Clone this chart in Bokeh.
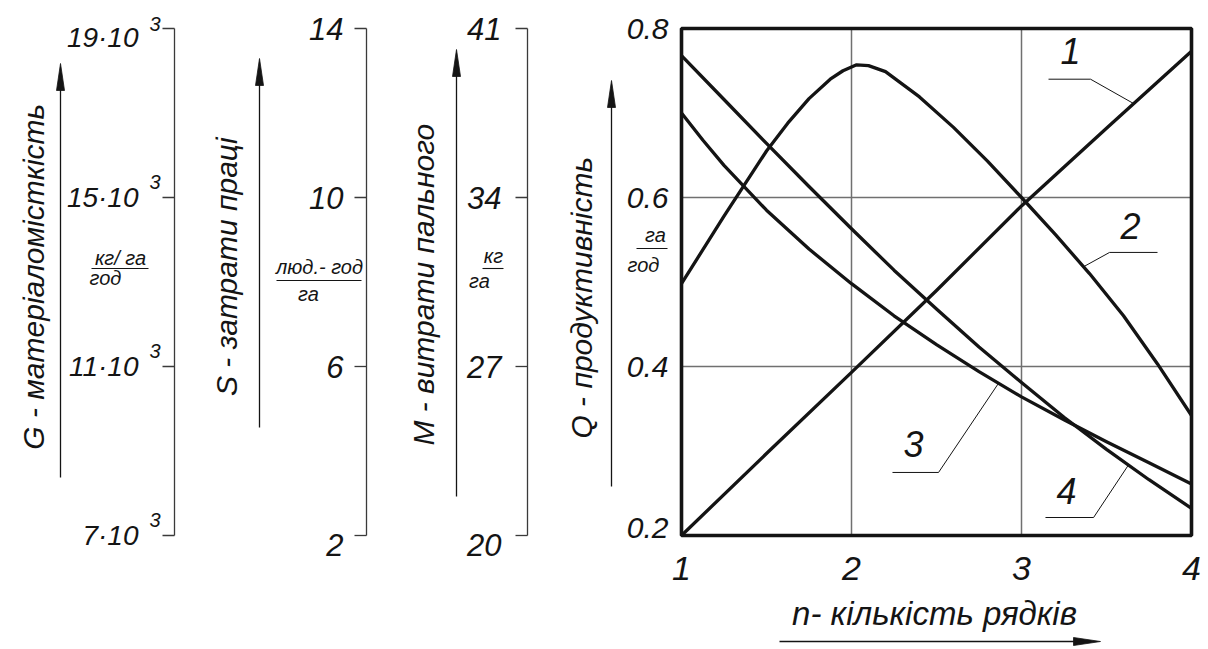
import numpy as np
from bokeh.plotting import figure
from bokeh.models import Range1d
from bokeh.core.properties import value
from bokeh.embed import file_html
from bokeh.resources import INLINE

# ---------------------------------------------------------------- data
# productivity Q (га/год) against the number of rows n, four variants
n_1 = [1.0, 1.5, 2.0, 2.5, 3.0, 3.5, 4.0]
q_1 = [0.200, 0.297, 0.393, 0.490, 0.590, 0.682, 0.773]

n_2 = [1.0, 1.25, 1.5, 1.625, 1.75, 1.875, 1.95, 2.03, 2.1, 2.2, 2.4, 2.6, 2.8,
       3.0, 3.2, 3.4, 3.6, 3.8, 4.0]
q_2 = [0.498, 0.578, 0.655, 0.688, 0.717, 0.740, 0.750, 0.757, 0.756, 0.749, 0.719,
       0.683, 0.643, 0.600, 0.556, 0.510, 0.460, 0.403, 0.342]

n_3 = [1.0, 1.125, 1.25, 1.5, 1.75, 2.0, 2.25, 2.5, 2.75, 3.0, 3.25, 3.5, 3.75, 4.0]
q_3 = [0.700, 0.668, 0.638, 0.585, 0.539, 0.498, 0.460, 0.426, 0.394, 0.364, 0.337,
       0.311, 0.286, 0.261]

n_4 = [1.0, 1.25, 1.5, 1.75, 2.0, 2.25, 2.5, 2.75, 3.0, 3.25, 3.5, 3.75, 4.0]
q_4 = [0.768, 0.716, 0.664, 0.613, 0.563, 0.514, 0.468, 0.423, 0.381, 0.340, 0.302, 0.266, 0.232]

curve_names = ["1", "2", "3", "4"]

# ticks of the main chart
n_ticks = [1, 2, 3, 4]
q_ticks = [0.2, 0.4, 0.6, 0.8]
q_tick_labels = ["0.2", "0.4", "0.6", "0.8"]

# side scales: material intensity G, labour input S, fuel use M
g_ticks = [7000, 11000, 15000, 19000]
g_tick_labels = ["7·10", "11·10", "15·10", "19·10"]
g_tick_power = "3"
s_ticks = [2, 6, 10, 14]
m_ticks = [20, 27, 34, 41]

g_title = "G -  матеріаломісткість"
s_title = "S -  затрати праці"
m_title = "M -  витрати пального"
q_title = "Q -  продуктивність"
n_title = "n- кількість рядків"

g_unit = ("кг/ га", "год")
s_unit = ("люд.- год", "га")
m_unit = ("кг", "га")
q_unit = ("га", "год")

# ---------------------------------------------------------------- layout
W, H = 1208, 649
TOP_PX, BOT_PX = 28, 535          # rows of the highest / lowest tick
LEFT_PX, RIGHT_PX = 681, 1191     # columns of n = 1 and n = 4
FONT = value("Liberation Sans")
INK = "#141414"
AXIS_INK = "#3a3a3a"


def fitted_range(lo_val, hi_val, lo_px, hi_px, size):
    """Range1d placing lo_val at lo_px and hi_val at hi_px (px from range start)."""
    per_px = (hi_val - lo_val) / (hi_px - lo_px)
    return Range1d(lo_val - lo_px * per_px, lo_val + (size - lo_px) * per_px)


def y_fitted(lo_val, hi_val):
    return fitted_range(lo_val, hi_val, H - BOT_PX, H - TOP_PX, H)


p = figure(width=W, height=H,
           x_range=fitted_range(n_ticks[0], n_ticks[-1], LEFT_PX, RIGHT_PX, W),
           y_range=y_fitted(q_ticks[0], q_ticks[-1]),
           output_backend="svg", toolbar_location=None, min_border=0,
           x_axis_location=None, y_axis_location=None)
p.grid.visible = False
p.outline_line_color = None
p.background_fill_color = "white"
p.border_fill_color = "white"
p.extra_x_ranges = {"page": Range1d(0, W)}
p.extra_y_ranges = {"page": Range1d(H, 0),
                    "G": y_fitted(g_ticks[0], g_ticks[-1]),
                    "S": y_fitted(s_ticks[0], s_ticks[-1]),
                    "M": y_fitted(m_ticks[0], m_ticks[-1])}

PG = dict(x_range_name="page", y_range_name="page")


def label(x, y, txt, size, align="center", angle=0.0, **kw):
    p.text(x=x, y=y, text=txt if isinstance(txt, list) else [txt],
           angle=angle, text_font=FONT, text_font_style="italic",
           text_font_size=f"{size}px", text_align=align, text_baseline="middle",
           text_color=INK, **kw)


def arrow(x0, y0, x1, y1, head=27, half=4.0):
    d = np.array([x1 - x0, y1 - y0], dtype=float)
    d /= np.hypot(*d)
    nx, ny = -d[1], d[0]
    bx, by = x1 - d[0] * head, y1 - d[1] * head
    p.segment(x0=[x0], y0=[y0], x1=[bx + d[0] * 4], y1=[by + d[1] * 4],
              line_color=INK, line_width=1.3, **PG)
    p.patch([x1, bx + nx * half, bx - nx * half], [y1, by + ny * half, by - ny * half],
            fill_color=INK, line_color=INK, line_width=0.8, **PG)


def fraction(num, den, num_xy, den_xy, bar_x0, bar_x1, bar_y, size=20):
    label(num_xy[0], num_xy[1], num, size, **PG)
    label(den_xy[0], den_xy[1], den, size, **PG)
    p.segment(x0=[bar_x0], y0=[bar_y], x1=[bar_x1], y1=[bar_y],
              line_color=INK, line_width=1.1, **PG)


def side_scale(axis_x, rng, ticks, labels, size, label_right, shift):
    p.segment(x0=[axis_x], y0=[ticks[0]], x1=[axis_x], y1=[ticks[-1]],
              line_color=AXIS_INK, line_width=1.3, x_range_name="page", y_range_name=rng)
    p.segment(x0=axis_x - 12, y0=ticks, x1=axis_x, y1=ticks,
              line_color=AXIS_INK, line_width=1.3, x_range_name="page", y_range_name=rng)
    label(label_right, list(ticks), labels, size, align="right",
          y_offset=shift, x_range_name="page", y_range_name=rng)


# ---------------------------------------------------------------- side scales
g_shift = [0, 0, 0, 9]
side_scale(174, "G", g_ticks, g_tick_labels, 28, 138, g_shift)
label(149, list(g_ticks), [g_tick_power] * len(g_ticks), 20, align="left",
      y_offset=[-5 if t == g_ticks[-1] else -16 for t in g_ticks],
      x_range_name="page", y_range_name="G")
edge_shift = [9, 0, 0, 0]
side_scale(366, "S", s_ticks, [str(t) for t in s_ticks], 31, 343, edge_shift)
side_scale(527, "M", m_ticks, [str(t) for t in m_ticks], 31, 501, edge_shift)

label(33, 272, g_title, 30, angle=np.pi / 2, **PG)
label(226, 262, s_title, 30, angle=np.pi / 2, **PG)
label(423, 280, m_title, 30, angle=np.pi / 2, **PG)
label(581, 293, q_title, 30, angle=np.pi / 2, **PG)

arrow(60, 477, 60, 63)
arrow(259, 427, 259, 58)
arrow(456, 496, 456, 49)
arrow(611, 486, 611, 80)
arrow(779, 641, 1100, 641)

fraction(g_unit[0], g_unit[1], (120, 257), (105, 277), 91, 148, 268)
fraction(s_unit[0], s_unit[1], (319, 266), (308, 293), 276, 361, 280)
fraction(m_unit[0], m_unit[1], (493, 255), (479, 280), 482, 503, 268)
fraction(q_unit[0], q_unit[1], (655, 234), (643, 264), 636, 667, 248)

# ---------------------------------------------------------------- main chart
inner_n = n_ticks[1:-1]
inner_q = q_ticks[1:-1]
p.segment(x0=inner_n, y0=q_ticks[0], x1=inner_n, y1=q_ticks[-1],
          line_color="#707070", line_width=1.5)
p.segment(x0=n_ticks[0], y0=inner_q, x1=n_ticks[-1], y1=inner_q,
          line_color="#707070", line_width=1.5)

curves = [(n_1, q_1), (n_2, q_2), (n_3, q_3), (n_4, q_4)]
for n_k, q_k in curves:
    p.line(n_k, q_k, line_color=INK, line_width=3.3, line_join="round")

p.quad(left=[n_ticks[0]], right=[n_ticks[-1]], bottom=[q_ticks[0]], top=[q_ticks[-1]],
       fill_color=None, line_color=INK, line_width=3.6)

# numbered leaders: anchor on the curve, elbow, end of the shelf, label position
leaders = [
    (3.660, 3.406, 3.159, 0.740, 3.288, 0.773),
    (3.365, 3.518, 3.800, 0.535, 3.641, 0.566),
    (2.865, 2.512, 2.241, 0.2746, 2.365, 0.308),
    (3.629, 3.424, 3.141, 0.2213, 3.265, 0.253),
]
for (n_k, q_k), name, (a_n, e_n, s_n, s_q, t_n, t_q) in zip(curves, curve_names, leaders):
    a_q = float(np.interp(a_n, n_k, q_k))
    p.line([s_n, e_n, a_n], [s_q, s_q, a_q], line_color=INK, line_width=1.0)
    label(t_n, t_q, name, 36)

# tick labels
label(668, q_ticks, q_tick_labels, 30, align="right",
      y_offset=[-8 if t == q_ticks[0] else 0 for t in q_ticks], x_range_name="page")
label(n_ticks, 568, [str(t) for t in n_ticks], 34, y_range_name="page")
label(934, 613, n_title, 33, **PG)

open("out.html", "w").write(file_html(p, INLINE))
